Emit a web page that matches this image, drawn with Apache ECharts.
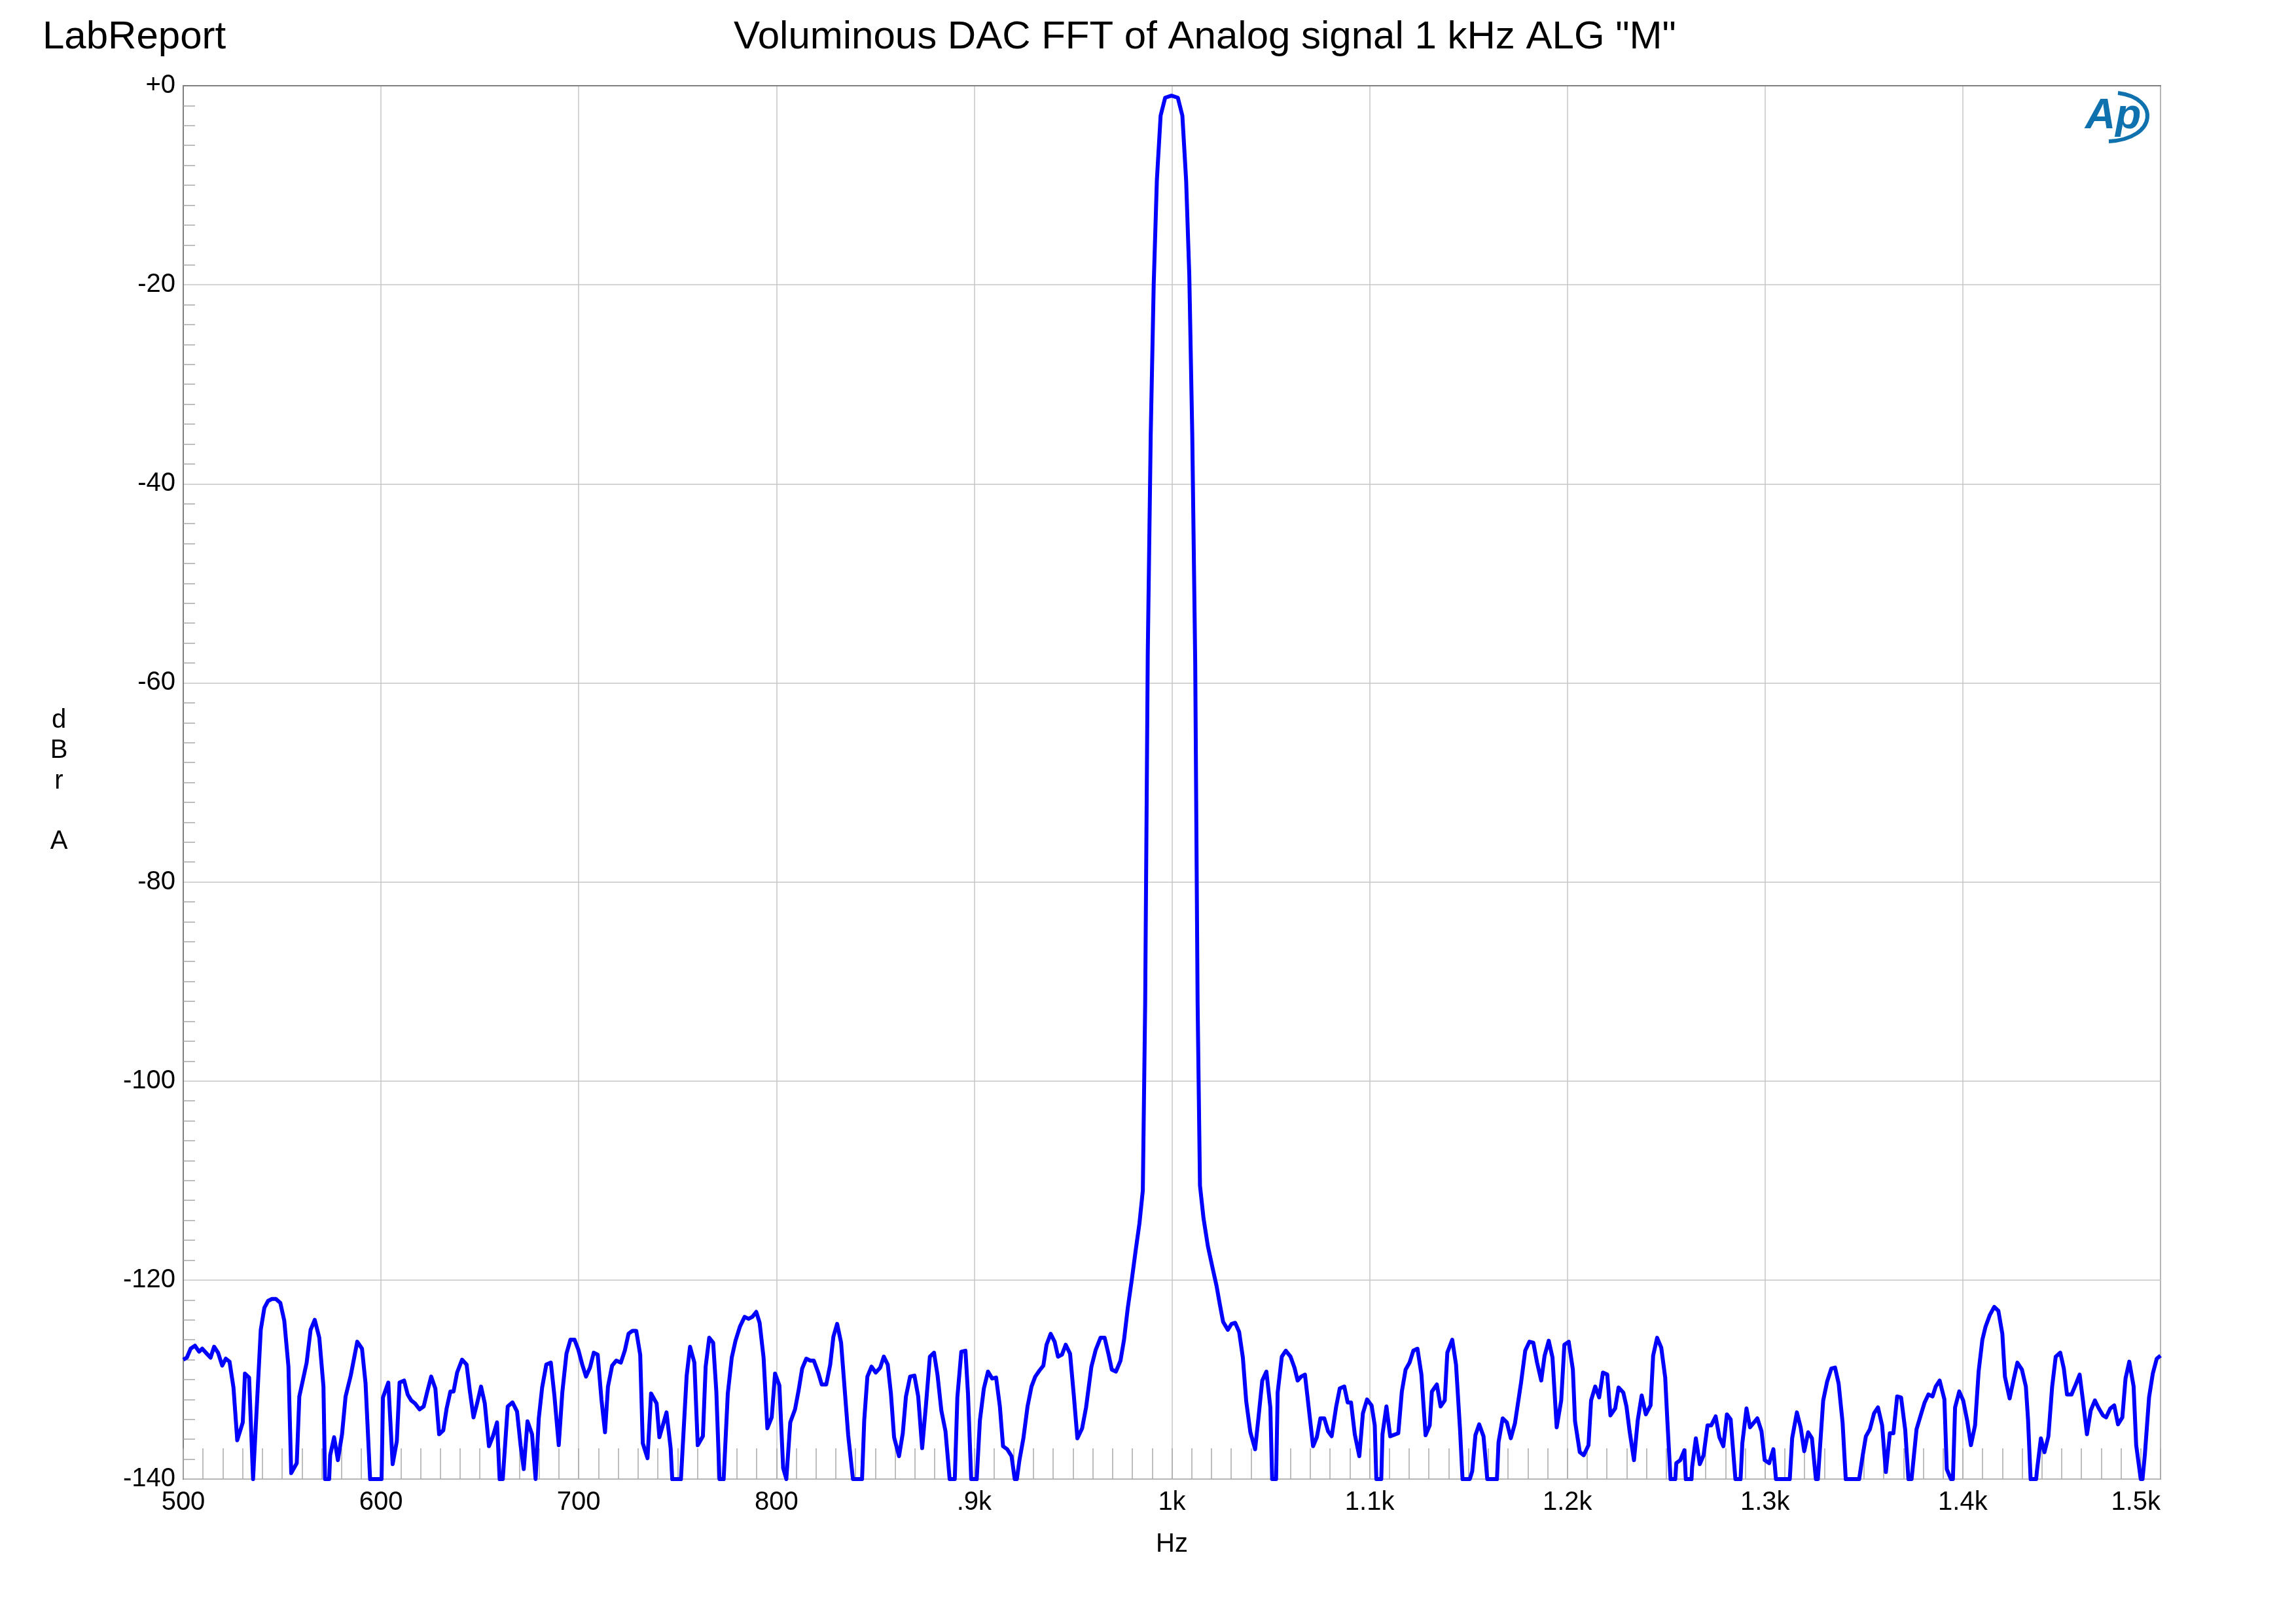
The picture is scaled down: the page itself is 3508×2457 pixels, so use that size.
<!DOCTYPE html>
<html>
<head>
<meta charset="utf-8">
<script src="https://cdn.jsdelivr.net/npm/echarts@6/dist/echarts.min.js"></script>
<style>
html,body{margin:0;padding:0;background:#fff;}
#chart{width:3508px;height:2457px;}
</style>
</head>
<body>
<div id="chart"></div>
<script>
// ---- data ----
const xTickValues = [500, 600, 700, 800, 900, 1000, 1100, 1200, 1300, 1400, 1500];
const xTickLabels = ['500', '600', '700', '800', '.9k', '1k', '1.1k', '1.2k', '1.3k', '1.4k', '1.5k'];
const yTickValues = [0, -20, -40, -60, -80, -100, -120, -140];
const yTickLabels = ['+0', '-20', '-40', '-60', '-80', '-100', '-120', '-140'];

const freqHz = [
500.0,501.8,503.7,505.9,508.0,509.6,511.9,513.8,515.6,517.6,519.7,521.5,523.4,525.4,527.3,530.1,531.2,533.3,535.3,539.2,
541.0,542.9,544.9,546.8,549.1,551.1,553.2,554.6,557.4,558.7,562.4,564.4,566.5,568.8,570.9,571.7,573.8,574.3,576.3,578.2,
580.3,582.1,584.7,588.0,590.4,592.2,594.5,600.3,601.0,603.7,605.9,608.0,609.4,611.7,613.5,615.3,617.2,619.5,621.6,623.3,
625.4,627.5,629.4,631.5,633.2,635.1,636.7,638.5,641.0,643.3,644.9,646.8,648.6,650.6,652.5,654.6,656.6,658.7,660.0,661.6,
664.1,666.5,668.8,670.6,672.2,674.1,676.4,678.2,679.8,681.5,683.6,685.9,687.7,689.9,691.7,693.8,695.8,697.9,699.8,701.8,
703.7,705.7,707.6,709.6,711.5,713.3,714.8,716.9,719.0,721.3,723.3,725.2,727.2,729.1,731.1,732.4,734.8,736.6,739.4,740.8,
744.4,746.5,747.3,751.7,754.6,756.3,758.5,760.2,762.8,764.2,766.0,768.0,769.6,771.2,773.3,775.4,777.4,779.3,781.5,783.9,
785.9,787.8,789.8,791.5,793.5,795.4,797.6,799.3,801.5,803.4,805.0,807.0,809.4,811.2,813.0,815.1,817.1,818.9,821.3,822.9,
825.2,827.2,828.8,830.7,832.7,834.6,836.3,838.7,843.3,844.4,846.0,848.1,850.2,852.5,854.3,856.3,857.9,859.5,862.0,863.9,
865.5,867.6,869.8,871.7,873.7,875.6,877.6,879.7,881.5,883.4,885.5,887.6,890.2,891.5,893.5,895.6,896.9,898.5,901.3,902.9,
904.9,907.0,909.1,911.1,913.0,914.6,916.7,918.9,920.5,921.6,922.9,924.9,927.0,929.0,930.9,933.0,935.0,936.6,938.7,940.7,
942.4,944.4,946.3,948.5,950.4,952.2,954.6,956.6,959.3,961.5,963.9,966.0,968.0,969.6,971.7,974.0,975.8,977.7,979.7,981.7,
983.6,985.3,986.5,987.8,989.3,990.8,992.4,994.3,996.6,999.8,1003.0,1005.3,1007.2,1008.8,1010.3,1011.8,1013.0,1014.2,1016.0,1018.2,
1020.7,1022.6,1024.2,1025.9,1028.3,1030.2,1032.0,1034.0,1035.9,1037.6,1039.7,1042.1,1043.7,1045.7,1047.8,1049.8,1050.7,1052.7,1053.5,1055.6,
1057.6,1060.0,1062.0,1063.6,1065.4,1067.3,1068.9,1071.4,1073.3,1075.1,1077.1,1079.0,1080.8,1083.1,1084.9,1087.2,1088.9,1090.6,1092.5,1094.8,
1096.6,1098.7,1101.0,1102.6,1103.4,1105.9,1106.5,1108.5,1110.4,1114.5,1116.3,1118.2,1120.2,1122.1,1124.2,1126.2,1128.3,1130.4,1131.5,1134.0,
1135.9,1138.0,1139.3,1141.8,1143.7,1145.7,1147.0,1150.7,1151.9,1153.5,1155.4,1157.6,1159.5,1164.4,1165.2,1167.3,1169.4,1171.4,1173.5,1176.6,
1178.7,1180.8,1182.8,1184.7,1186.8,1188.5,1190.6,1192.5,1194.6,1196.9,1198.5,1200.7,1202.8,1203.9,1206.3,1208.3,1210.7,1212.0,1214.1,1216.1,
1218.0,1220.2,1221.8,1224.2,1225.9,1228.3,1229.9,1231.5,1233.7,1235.6,1237.6,1239.7,1242.1,1243.4,1245.4,1247.5,1249.5,1250.6,1252.2,1254.6,
1255.1,1257.1,1259.2,1259.9,1262.8,1263.1,1265.0,1267.0,1268.9,1270.9,1272.8,1275.0,1276.9,1278.9,1280.7,1282.6,1285.0,1287.6,1288.5,1290.6,
1292.4,1296.1,1298.2,1299.8,1302.1,1304.2,1305.5,1312.5,1313.7,1316.1,1318.0,1319.8,1321.8,1323.7,1325.7,1326.7,1329.4,1331.4,1333.5,1335.4,
1337.2,1339.2,1340.8,1347.6,1349.4,1351.0,1353.0,1355.1,1357.1,1359.2,1361.1,1363.1,1364.9,1366.8,1368.8,1370.9,1372.5,1374.1,1376.6,1378.7,
1380.7,1382.6,1384.7,1386.3,1388.3,1390.7,1391.9,1394.0,1395.0,1396.1,1398.2,1400.2,1402.3,1404.1,1406.2,1408.0,1409.9,1411.5,1413.7,1415.9,
1418.0,1420.0,1421.3,1423.7,1425.7,1427.6,1429.9,1431.9,1433.0,1434.3,1437.1,1437.6,1439.5,1441.3,1443.3,1445.2,1447.0,1449.3,1451.1,1452.7,
1455.0,1457.1,1459.1,1460.7,1462.8,1464.7,1466.8,1468.8,1470.9,1472.5,1474.6,1476.6,1478.5,1480.7,1482.3,1484.2,1486.4,1487.7,1490.0,1490.9,
1492.1,1494.2,1496.1,1498.1,1500.0
];

const levelDbrA = [
-128.0,-127.8,-126.9,-126.6,-127.2,-126.9,-127.4,-127.8,-126.7,-127.3,-128.6,-127.9,-128.2,-130.8,-136.1,-134.3,-129.4,-129.8,-140,-125.0,
-122.8,-122.1,-121.9,-121.9,-122.3,-124.1,-128.7,-139.4,-138.4,-131.7,-128.3,-125.0,-124.0,-125.8,-130.7,-140,-140,-137.6,-135.8,-138.1,
-135.5,-131.7,-129.6,-126.2,-126.9,-130.4,-140,-140,-131.8,-130.3,-138.5,-136.2,-130.3,-130.1,-131.5,-132.1,-132.4,-133.0,-132.7,-131.3,
-129.7,-130.9,-135.5,-135.1,-132.9,-131.2,-131.2,-129.3,-128.0,-128.5,-131.1,-133.8,-132.4,-130.7,-132.4,-136.7,-135.7,-134.3,-140,-140,
-132.7,-132.3,-133.2,-136.6,-139.0,-134.2,-135.5,-140,-133.9,-130.8,-128.5,-128.3,-131.6,-136.6,-131.3,-127.4,-126.0,-126.0,-127.0,-128.5,
-129.7,-128.8,-127.3,-127.5,-132.0,-135.3,-130.7,-128.6,-128.1,-128.3,-127.1,-125.4,-125.1,-125.1,-127.5,-136.4,-137.9,-131.4,-132.4,-135.8,
-133.3,-136.9,-140,-140,-129.6,-126.7,-128.3,-136.6,-135.7,-128.7,-125.8,-126.3,-131.2,-140,-140,-131.4,-127.8,-126.1,-124.7,-123.7,
-123.9,-123.7,-123.2,-124.3,-127.8,-134.9,-133.8,-129.4,-130.6,-138.9,-140,-134.3,-133.0,-131.1,-128.9,-127.9,-128.1,-128.1,-129.4,-130.5,
-130.5,-128.5,-125.7,-124.4,-126.3,-131.2,-135.6,-140,-140,-134.1,-129.7,-128.7,-129.3,-128.8,-127.7,-128.5,-131.4,-135.8,-137.7,-135.4,
-131.7,-129.7,-129.6,-131.7,-136.9,-132.6,-127.7,-127.3,-129.6,-133.1,-135.2,-140,-140,-131.8,-127.2,-127.1,-131.5,-140,-140,-134.1,
-130.9,-129.2,-129.9,-129.8,-132.7,-136.7,-137.0,-137.7,-140,-140,-138.1,-135.9,-132.7,-130.7,-129.7,-129.1,-128.6,-126.5,-125.4,-126.2,
-127.7,-127.5,-126.5,-127.4,-131.6,-135.9,-134.9,-132.8,-128.7,-127.0,-125.8,-125.8,-127.5,-129.0,-129.2,-128.1,-126.0,-122.8,-120.0,-117.0,
-114.3,-111.0,-92.0,-57.0,-35.0,-20.0,-9.5,-3.0,-1.2,-1.0,-1.2,-3.0,-9.5,-19.0,-35.0,-58.0,-92.0,-110.5,-113.8,-116.6,
-118.9,-120.6,-122.4,-124.2,-125.0,-124.4,-124.3,-125.2,-127.8,-132.2,-135.3,-137.0,-134.0,-130.1,-129.2,-132.8,-140,-140,-131.3,-127.7,
-127.1,-127.7,-128.8,-130.1,-129.7,-129.5,-132.3,-136.7,-135.8,-133.9,-133.9,-135.2,-135.7,-132.7,-130.9,-130.7,-132.3,-132.3,-135.5,-137.7,
-133.4,-132.0,-132.6,-134.6,-140,-140,-135.5,-132.7,-135.7,-135.4,-131.2,-129.0,-128.3,-127.1,-126.9,-129.5,-135.6,-134.6,-131.2,-130.5,
-132.7,-132.1,-127.3,-126.0,-128.5,-134.9,-140,-140,-139.2,-135.6,-134.5,-135.7,-140,-140,-136.3,-133.9,-134.3,-135.9,-134.4,-130.3,
-127.1,-126.2,-126.3,-128.3,-130.1,-127.6,-126.1,-127.8,-134.8,-132.1,-126.5,-126.2,-129.0,-134.2,-137.3,-137.6,-136.6,-132.1,-130.7,-131.8,
-129.3,-129.5,-133.6,-132.9,-130.8,-131.3,-132.7,-135.2,-138.1,-134.1,-131.6,-133.5,-132.6,-127.6,-125.8,-126.8,-129.8,-134.2,-140,-140,
-138.4,-138.1,-137.1,-140,-140,-138.8,-135.9,-138.5,-137.6,-134.6,-134.6,-133.7,-135.8,-136.7,-133.5,-134.0,-140,-140,-136.4,-132.9,
-134.8,-133.9,-135.2,-138.1,-138.4,-137.0,-140,-140,-135.9,-133.3,-134.8,-137.2,-135.3,-135.9,-140,-140,-132.1,-130.2,-128.9,-128.8,
-130.4,-134.3,-140,-140,-137.6,-135.7,-135.0,-133.4,-132.8,-134.6,-139.3,-135.4,-135.4,-131.7,-131.8,-135.1,-140,-140,-135.0,-133.6,
-132.3,-131.5,-131.7,-130.7,-130.1,-132.0,-139.0,-140,-140,-132.8,-131.2,-132.1,-134.2,-136.6,-134.6,-129.2,-126.0,-124.7,-123.5,-122.7,
-123.1,-125.4,-129.7,-131.9,-130.0,-128.3,-129.0,-130.7,-134.0,-140,-140,-139.0,-135.9,-137.3,-135.7,-130.7,-127.7,-127.3,-128.9,-131.5,
-131.5,-130.5,-129.5,-132.0,-135.5,-133.1,-132.1,-132.9,-133.6,-133.8,-132.9,-132.6,-134.5,-133.8,-129.9,-128.2,-130.7,-136.6,-140,-140,
-137.5,-131.8,-129.4,-127.9,-127.6
];

const titleText = 'Voluminous DAC FFT of Analog signal 1 kHz ALG "M"';
const brandText = 'LabReport';
const xAxisName = 'Hz';
const yAxisName = 'd\nB\nr\n\nA';

// ---- chart ----
const FONT = '"Liberation Sans", Arial, Helvetica, sans-serif';
const seriesData = freqHz.map((f, i) => [f, levelDbrA[i]]);
const xLabelMap = {};
xTickValues.forEach((v, i) => { xLabelMap[v] = xTickLabels[i]; });
const yLabelMap = {};
yTickValues.forEach((v, i) => { yLabelMap[v] = yTickLabels[i]; });

const chart = echarts.init(document.getElementById('chart'), null, {renderer: 'canvas'});
chart.setOption({
  animation: false,
  backgroundColor: '#ffffff',
  textStyle: {fontFamily: FONT},
  grid: {left: 280, right: 207, top: 131, bottom: 197, show: true, borderColor: '#8a8a8a', borderWidth: 2, backgroundColor: 'transparent'},
  xAxis: [{
    type: 'value', min: 500, max: 1500, interval: 100, position: 'bottom',
    axisLine: {show: true, lineStyle: {color: '#7f7f7f', width: 2}},
    axisTick: {show: false},
    minorTick: {show: false},
    splitLine: {show: true, lineStyle: {color: '#c6c6c6', width: 1.5}},
    axisLabel: {
      fontSize: 40, color: '#000', fontFamily: FONT, margin: 16,
      alignMaxLabel: 'right',
      formatter: v => (xLabelMap[v] !== undefined ? xLabelMap[v] : '')
    },
    name: xAxisName, nameLocation: 'middle', nameGap: 80,
    nameTextStyle: {fontSize: 40, color: '#000', fontFamily: FONT}
  }, {
    // helper axis: 10 Hz inside ticks along the bottom edge
    type: 'value', min: 500, max: 1500, interval: 10, position: 'bottom', offset: 0,
    axisLine: {show: false},
    axisTick: {show: true, inside: true, length: 47, lineStyle: {color: '#a8a8a8', width: 1.5}},
    axisLabel: {show: false},
    splitLine: {show: false}
  }],
  yAxis: {
    type: 'value', min: -140, max: 0, interval: 20,
    axisLine: {show: true, lineStyle: {color: '#7f7f7f', width: 2}},
    axisTick: {show: false, inside: true},
    minorTick: {show: true, splitNumber: 10, length: 18, lineStyle: {color: '#a8a8a8', width: 1.5}},
    splitLine: {show: true, lineStyle: {color: '#c6c6c6', width: 1.5}},
    axisLabel: {
      fontSize: 40, color: '#000', fontFamily: FONT, margin: 12,
      formatter: v => (yLabelMap[v] !== undefined ? yLabelMap[v] : '')
    }
  },
  graphic: [
    {type: 'text', x: 65, y: 27, style: {text: brandText, font: '60px ' + FONT, fill: '#000'}},
    {type: 'text', x: 1121, y: 27, style: {text: titleText, font: '60px ' + FONT, fill: '#000'}},
    {type: 'text', x: 90, y: 1078, style: {text: yAxisName, font: '40px ' + FONT, fill: '#000', align: 'center', lineHeight: 46.3}},
    {type: 'text', x: 3186, y: 146, style: {text: 'Ap', font: 'italic bold 64px ' + FONT, fill: '#0f71ad'}},
    {type: 'bezierCurve', shape: {x1: 3236, y1: 142, cpx1: 3300, cpy1: 150, cpx2: 3296, cpy2: 212, x2: 3222, y2: 216},
     style: {fill: 'none', stroke: '#0f71ad', lineWidth: 6}}
  ],
  series: [{
    type: 'line', data: seriesData, showSymbol: false, symbol: 'none', clip: true,
    xAxisIndex: 0, yAxisIndex: 0,
    lineStyle: {color: '#0000ff', width: 6, join: 'round'},
    z: 5
  }]
});
</script>
</body>
</html>
